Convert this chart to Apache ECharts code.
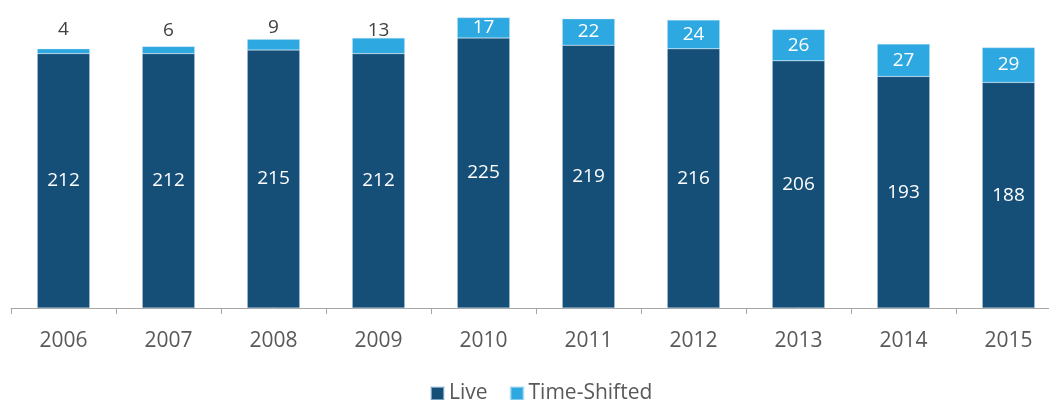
<!DOCTYPE html>
<html>
<head>
<meta charset="utf-8">
<style>
  html, body { margin: 0; padding: 0; background: #ffffff; overflow: hidden; }
  #chart { width: 1061px; height: 400px; }
</style>
<script src="https://cdn.jsdelivr.net/npm/echarts@6/dist/echarts.min.js"></script>
</head>
<body>
<div id="chart"></div>
<script>
// Average monthly viewing, split into live and time-shifted
const years = ['2006', '2007', '2008', '2009', '2010', '2011', '2012', '2013', '2014', '2015'];
const live = [212, 212, 215, 212, 225, 219, 216, 206, 193, 188];
const timeShifted = [4, 6, 9, 13, 17, 22, 24, 26, 27, 29];

const FONT = '"Open Sans", "Noto Sans", sans-serif';
const LIVE_COLOR = '#154f78';
const SHIFT_COLOR = '#2ea8e0';

// Segments too thin for a label carry it above the bar; the gap (px) lines them up in one row
const aboveGap = { 4: 10, 6: 6, 9: 2, 13: -2 };

const shiftData = timeShifted.map(v => ({
  value: v,
  label: v < 15
    ? { position: 'top', color: '#404040', distance: aboveGap[v] }
    : { position: 'inside', color: '#ffffff' }
}));

const chart = echarts.init(document.getElementById('chart'), null, { renderer: 'canvas' });

chart.setOption({
  animation: false,
  textStyle: { fontFamily: FONT },
  grid: { left: 11, top: 8, right: 0, height: 300, containLabel: false },
  legend: {
    top: 378,
    left: 425,
    itemWidth: 13,
    itemHeight: 13,
    itemGap: 22,
    icon: 'rect',
    textStyle: { fontFamily: FONT, fontSize: 21, color: '#595959' },
    data: ['Live', 'Time-Shifted']
  },
  xAxis: {
    type: 'category',
    data: years,
    axisLine: { lineStyle: { color: '#a6a6a6', width: 1 } },
    axisTick: { show: true, alignWithLabel: false, length: 6, lineStyle: { color: '#a6a6a6' } },
    axisLabel: { fontFamily: FONT, fontSize: 21, color: '#595959', margin: 23 }
  },
  yAxis: {
    type: 'value',
    min: 0,
    max: 250,
    show: false,
    splitLine: { show: false }
  },
  series: [
    {
      name: 'Live',
      type: 'bar',
      stack: 'total',
      barWidth: '50%',
      data: live,
      itemStyle: { color: LIVE_COLOR, borderColor: 'rgba(190,215,235,0.6)', borderWidth: 0.5 },
      label: { show: true, position: 'inside', color: '#ffffff', fontFamily: FONT, fontSize: 19 }
    },
    {
      name: 'Time-Shifted',
      type: 'bar',
      stack: 'total',
      barWidth: '50%',
      data: shiftData,
      itemStyle: { color: SHIFT_COLOR, borderColor: 'rgba(190,225,245,0.6)', borderWidth: 0.5 },
      label: { show: true, fontFamily: FONT, fontSize: 19 }
    }
  ]
});
</script>
</body>
</html>
